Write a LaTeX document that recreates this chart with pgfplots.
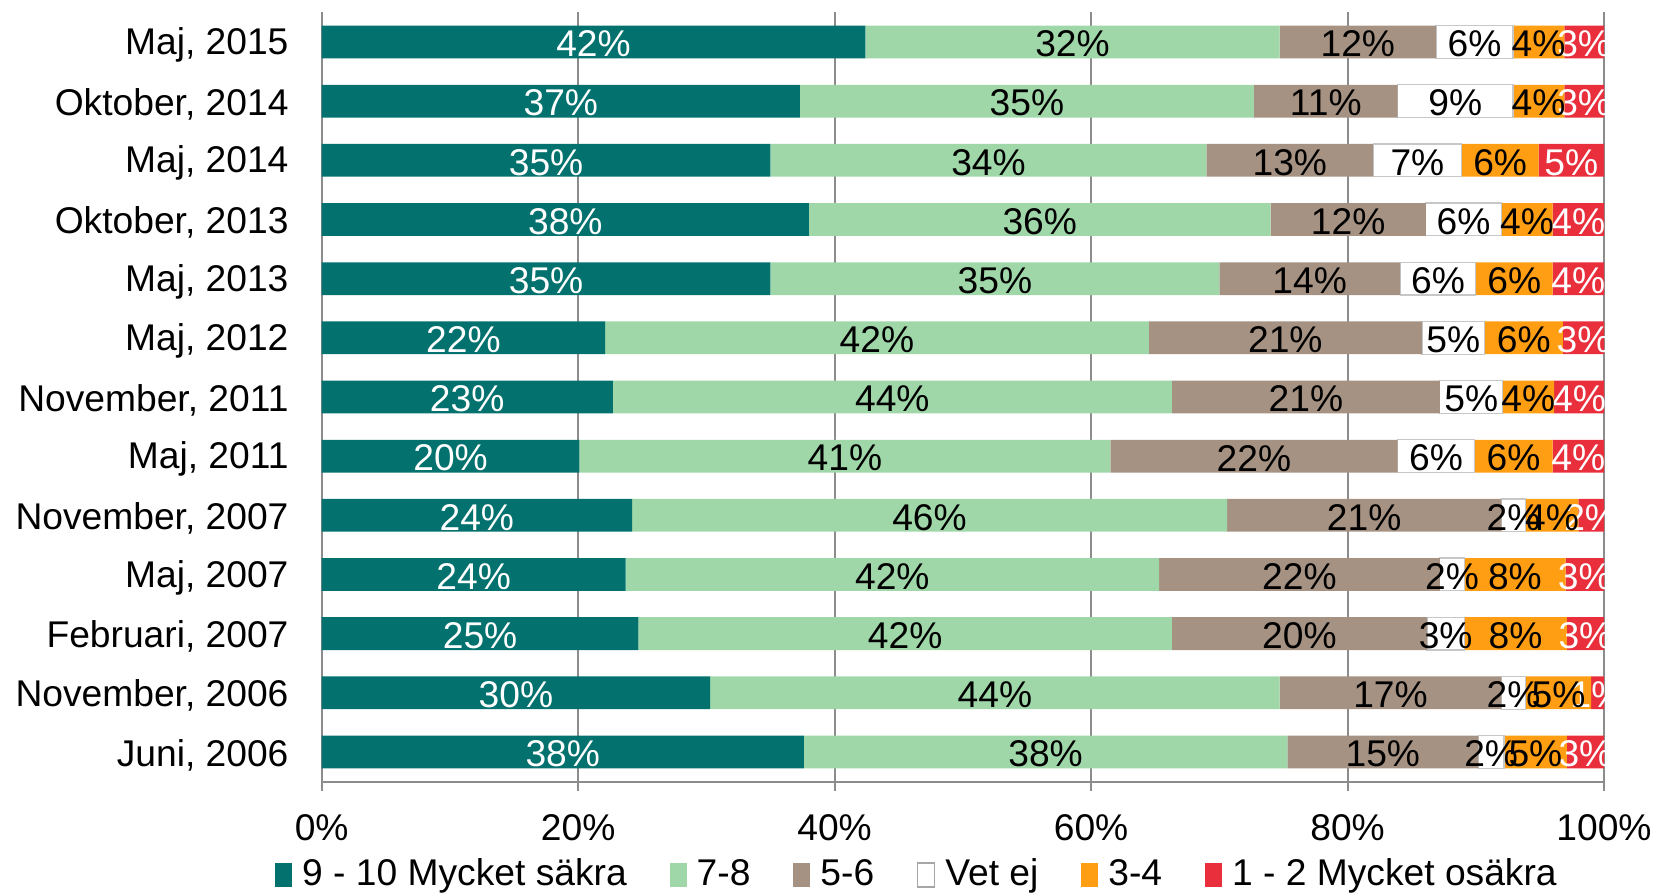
\documentclass[border=0pt]{standalone}
\usepackage{pgfplots}
\usepackage{pgfplotstable}
\pgfplotsset{compat=1.18}
\usepackage{fontspec}
\setmainfont{Liberation Sans}
\definecolor{cteal}{HTML}{03716E}
\definecolor{cgreen}{HTML}{9FD7A9}
\definecolor{cbrown}{HTML}{A69282}
\definecolor{corange}{HTML}{FF9E12}
\definecolor{cred}{HTML}{EA2F3C}
\definecolor{cgrid}{HTML}{8C8C8C}
\pgfplotstableread{
idx a b c d e f
0 42.4 32.3 12.2 6.0 4.0 3.1
1 37.3 35.4 11.2 9.0 4.0 3.1
2 35.0 34.0 13.0 6.9 6.0 5.1
3 38.0 36.0 12.1 5.9 4.0 4.0
4 35.0 35.0 14.1 5.9 6.0 4.0
5 22.1 42.4 21.3 4.9 6.1 3.2
6 22.7 43.6 20.9 4.9 4.0 3.9
7 20.1 41.4 22.4 6.0 6.1 4.0
8 24.2 46.4 21.4 1.9 4.1 2.0
9 23.7 41.6 21.9 1.9 7.9 3.0
10 24.7 41.6 19.9 2.9 8.0 2.9
11 30.3 44.4 17.3 1.9 5.1 1.0
12 37.6 37.7 14.9 2.0 4.9 2.9
}\data
\begin{document}
\fontsize{18.6bp}{22bp}\selectfont
\begin{tikzpicture}
\useasboundingbox (-160.85bp,-55.7bp) rectangle (666.2bp,390.8bp);
\begin{axis}[
  at={(0,0)}, anchor=south west,
  scale only axis, width=641.2bp, height=384.6bp,
  xbar stacked, bar width=16.4bp,
  xmin=0, xmax=100, ymin=-0.5, ymax=12.5, y dir=reverse,
  axis x line*=bottom, axis y line*=left,
  axis line style={draw=cgrid, line width=1bp},
  xmajorgrids, grid style={draw=cgrid, line width=1bp},
  xtick={0,20,40,60,80,100},
  xticklabels={0\%,20\%,40\%,60\%,80\%,100\%},
  tick align=outside, major tick length=4.7bp,
  xtick style={draw=cgrid, line width=1bp},
  ytick={0,...,12},
  yticklabels={{Maj, 2015},{Oktober, 2014},{Maj, 2014},{Oktober, 2013},{Maj, 2013},{Maj, 2012},{November, 2011},{Maj, 2011},{November, 2007},{Maj, 2007},{Februari, 2007},{November, 2006},{Juni, 2006}},
  ytick style={draw=none},
  minor ytick={-0.5,0.5,...,12.5},
  minor tick length=2.6bp,
  minor tick style={draw=cgrid, line width=1bp},
  yticklabel style={xshift=-5.5bp, yshift=-1.5bp},
  xticklabel style={yshift=-5.5bp},
  tick label style={font=\fontsize{18.6bp}{22bp}\selectfont},
  /pgf/number format/assume math mode=true,
  point meta=explicit,
  nodes near coords={\pgfmathprintnumber[fixed,precision=0]{\pgfplotspointmeta}\%},
  every node near coord/.append style={font=\fontsize{18.6bp}{22bp}\selectfont, inner sep=0pt, yshift=-1bp},
  legend columns=6,
  legend style={draw=none, fill=none, at={(0.465,-0.1214)}, anchor=center,
    font=\fontsize{18.6bp}{22bp}\selectfont,
    /tikz/every even column/.append style={column sep=19.5bp},
    /tikz/every odd column/.append style={column sep=3bp}},
]
\addplot[fill=cteal, draw=none, nodes near coords style={text=white},
  legend image code/.code={\fill[cteal] (0bp,-6bp) rectangle (8.5bp,6bp);}] table[x=a, y=idx, meta=a] {\data};
\addplot[fill=cgreen, draw=none, nodes near coords style={text=black},
  legend image code/.code={\fill[cgreen] (0bp,-6bp) rectangle (8.5bp,6bp);}] table[x=b, y=idx, meta=b] {\data};
\addplot[fill=cbrown, draw=none, nodes near coords style={text=black},
  legend image code/.code={\fill[cbrown] (0bp,-6bp) rectangle (8.5bp,6bp);}] table[x=c, y=idx, meta=c] {\data};
\addplot[fill=white, draw=black!22, line width=0.6bp, nodes near coords style={text=black},
  legend image code/.code={\filldraw[fill=white, draw=black!35, line width=0.6bp] (0bp,-6bp) rectangle (8.5bp,6bp);}] table[x=d, y=idx, meta=d] {\data};
\addplot[fill=corange, draw=none, nodes near coords style={text=black},
  legend image code/.code={\fill[corange] (0bp,-6bp) rectangle (8.5bp,6bp);}] table[x=e, y=idx, meta=e] {\data};
\addplot[fill=cred, draw=none, nodes near coords style={text=white},
  legend image code/.code={\fill[cred] (0bp,-6bp) rectangle (8.5bp,6bp);}] table[x=f, y=idx, meta=f] {\data};
\legend{9 - 10 Mycket säkra, 7-8, 5-6, Vet ej, 3-4, 1 - 2 Mycket osäkra}
\end{axis}
\end{tikzpicture}
\end{document}
